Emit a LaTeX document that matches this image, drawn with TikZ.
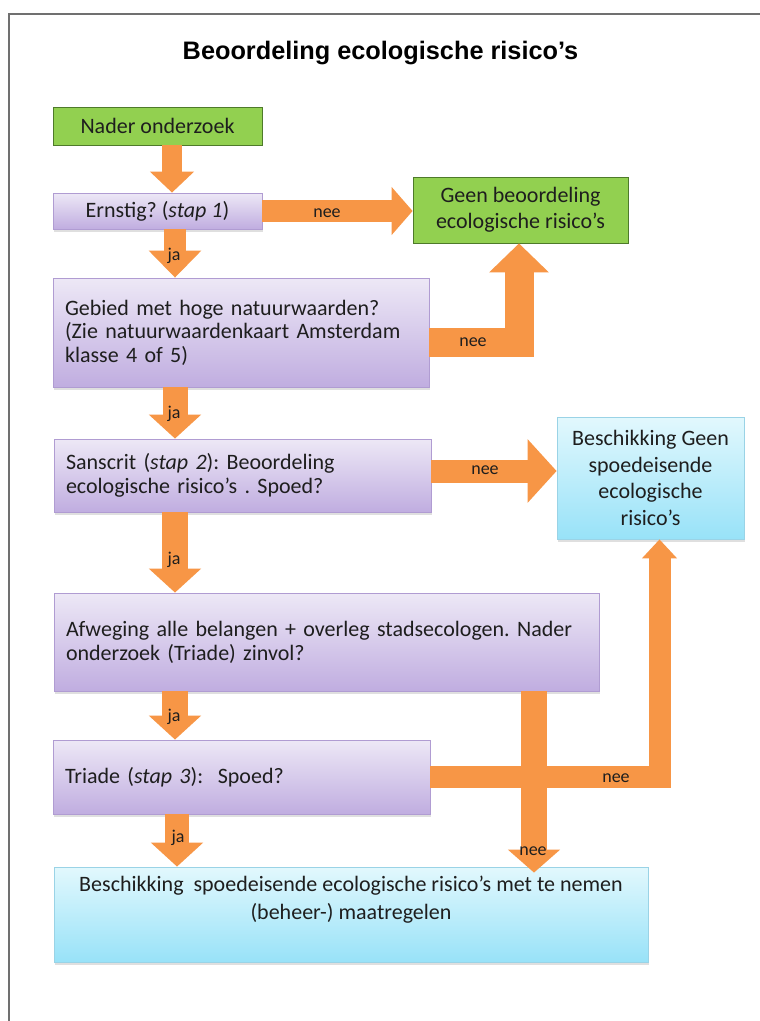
\documentclass[tikz,border=0pt]{standalone}
\usepackage{fontspec}
\setmainfont{Carlito}
\newfontfamily\titlefont{Liberation Sans}
\usetikzlibrary{arrows.meta,shadows,calc}
\definecolor{orf}{HTML}{F79646}
\definecolor{grfill}{HTML}{92D050}
\definecolor{grdraw}{HTML}{4E7A2A}
\definecolor{purptop}{HTML}{EDE8F6}
\definecolor{purpbot}{HTML}{C0ADE0}
\definecolor{purpdraw}{HTML}{B09CD2}
\definecolor{bltop}{HTML}{E2F8FD}
\definecolor{blbot}{HTML}{98E2F8}
\definecolor{bldraw}{HTML}{9AD3E6}
\definecolor{framec}{HTML}{707070}
\definecolor{txt}{HTML}{1E1E1E}
\frenchspacing
\tikzset{
  box/.style={rectangle, line width=0.8pt, inner sep=0pt, text=txt, font=\fontsize{22}{26}\selectfont},
  greenbox/.style={box, draw=grdraw, fill=grfill, align=center},
  purpbox/.style={box, draw=purpdraw, top color=purptop, bottom color=purpbot,
     drop shadow={shadow xshift=0.5pt, shadow yshift=-2.5pt, opacity=0.25}},
  bluebox/.style={box, draw=bldraw, top color=bltop, bottom color=blbot,
     drop shadow={shadow xshift=0.5pt, shadow yshift=-2.5pt, opacity=0.25}},
  oarrow/.style={draw=orf, line join=miter},
  lbl/.style={font=\fontsize{18}{18}\selectfont, text=txt, inner sep=0pt},
}
\begin{document}
\begin{tikzpicture}[x=1pt,y=-1pt]
\useasboundingbox (0,0) rectangle (760,1021);
\fill[white] (0,0) rectangle (760,1021);
\draw[framec, line width=2pt] (760,13.5) -- (9,13.5) -- (9,1021);

\node[font=\titlefont\bfseries\fontsize{25.3}{29}\selectfont, text=black] (title) at (380.5,53.5) {Beoordeling ecologische risico’s};

% boxes
\node[greenbox, minimum width=209pt, minimum height=38pt] (nader) at (157.5,126) {Nader onderzoek};
\node[purpbox, minimum width=209pt, minimum height=36pt, align=center] (ern) at (157.5,211) {Ernstig? (\textit{stap 1})};
\node[greenbox, minimum width=215pt, minimum height=66pt, font=\fontsize{22}{26}\selectfont] (geen) at (520.5,210) {Geen beoordeling\\ecologische risico’s};
\node[purpbox, minimum width=376pt, minimum height=109pt, text width=352pt, inner xsep=12pt, align=left, font=\fontsize{22}{23.5}\selectfont] (geb) at (241,332.5)
  {Gebied met hoge natuurwaarden?\\(Zie natuurwaardenkaart Amsterdam\\klasse 4 of 5)};
\node[purpbox, minimum width=377pt, minimum height=73pt, text width=353pt, inner xsep=12pt, align=left, font=\fontsize{22}{23.5}\selectfont] (sans) at (242.5,475.5)
  {Sanscrit (\textit{stap 2}): Beoordeling\\ecologische risico’s . Spoed?};
\node[bluebox, minimum width=187pt, minimum height=122pt, align=center, font=\fontsize{22}{26.7}\selectfont] (bg) at (650.5,478)
  {Beschikking Geen\\spoedeisende\\ecologische\\risico’s};
\node[purpbox, minimum width=545pt, minimum height=98pt, text width=521pt, inner xsep=12pt, align=left, font=\fontsize{22}{24}\selectfont] (afw) at (326.5,642)
  {Afweging alle belangen + overleg stadsecologen. Nader\\onderzoek (Triade) zinvol?};
\node[purpbox, minimum width=377pt, minimum height=74pt, text width=353pt, inner xsep=12pt, align=left] (tri) at (241.5,777)
  {Triade (\textit{stap 3}):\ \ Spoed?};
\node[bluebox, minimum width=594pt, minimum height=95pt] (bot) at (351,914.5) {};
\node[align=center, text=txt, font=\fontsize{22}{28}\selectfont, inner sep=0pt] (bottxt) at (351,900)
  {Beschikking\ \ spoedeisende ecologische risico’s met te nemen\\(beheer-) maatregelen};

% column coordinates
\coordinate (cA) at (172,0);
\coordinate (cB) at (175,0);
\coordinate (cC) at (177,0);
\coordinate (c4) at (519,342.5);
\coordinate (c6) at (0,471);
\coordinate (c10) at (534,0);
\coordinate (e10) at ($(bot.north -| c10)+(0,6)$);

% arrows
\draw[oarrow, line width=20pt, -{Triangle[width=43pt,length=21pt]}] (nader.south -| cA) -- (ern.north -| cA);
\draw[oarrow, line width=22pt, -{Triangle[width=47pt,length=21pt]}] (ern.east) -- (ern.east -| geen.west);
\draw[oarrow, line width=22pt, -{Triangle[width=51pt,length=27pt]}] (ern.south -| cB) -- (geb.north -| cB);
\draw[oarrow, line width=29pt, -{Triangle[width=58pt,length=29pt]}] (geb.east |- c4) -| (geen.south -| c4);
\draw[oarrow, line width=25pt, -{Triangle[width=51pt,length=24pt]}] (geb.south -| cB) -- (sans.north -| cB);
\draw[oarrow, line width=23pt, -{Triangle[width=62pt,length=29pt]}] (sans.east |- c6) -- (bg.west |- c6);
\draw[oarrow, line width=26pt, -{Triangle[width=51pt,length=24pt]}] (sans.south -| cB) -- (afw.north -| cB);
\draw[oarrow, line width=26pt, -{Triangle[width=51pt,length=24pt]}] (afw.south -| cB) -- (tri.north -| cB);
\draw[oarrow, line width=22pt, -{Triangle[width=34pt,length=19pt]}] (tri.east) -| ([xshift=9pt]bg.south);
\draw[oarrow, line width=26pt, -{Triangle[width=51pt,length=23pt]}] (afw.south -| c10) -- (e10);
\draw[oarrow, line width=24pt, -{Triangle[width=51pt,length=24pt]}] (tri.south -| cC) -- (bot.north -| cC);

% labels
\node[lbl] (n1) at (327,213) {nee};
\node[lbl] (n2) at (473,342) {nee};
\node[lbl] (n3) at (485,470) {nee};
\node[lbl] (n4) at (616,778) {nee};
\node[lbl] (n5) at (533,851) {nee};
\node[lbl] (j1) at (174,256) {ja};
\node[lbl] (j2) at (174,414) {ja};
\node[lbl] (j3) at (174,560) {ja};
\node[lbl] (j4) at (174,717) {ja};
\node[lbl] (j5) at (178,838) {ja};
\end{tikzpicture}
\end{document}
